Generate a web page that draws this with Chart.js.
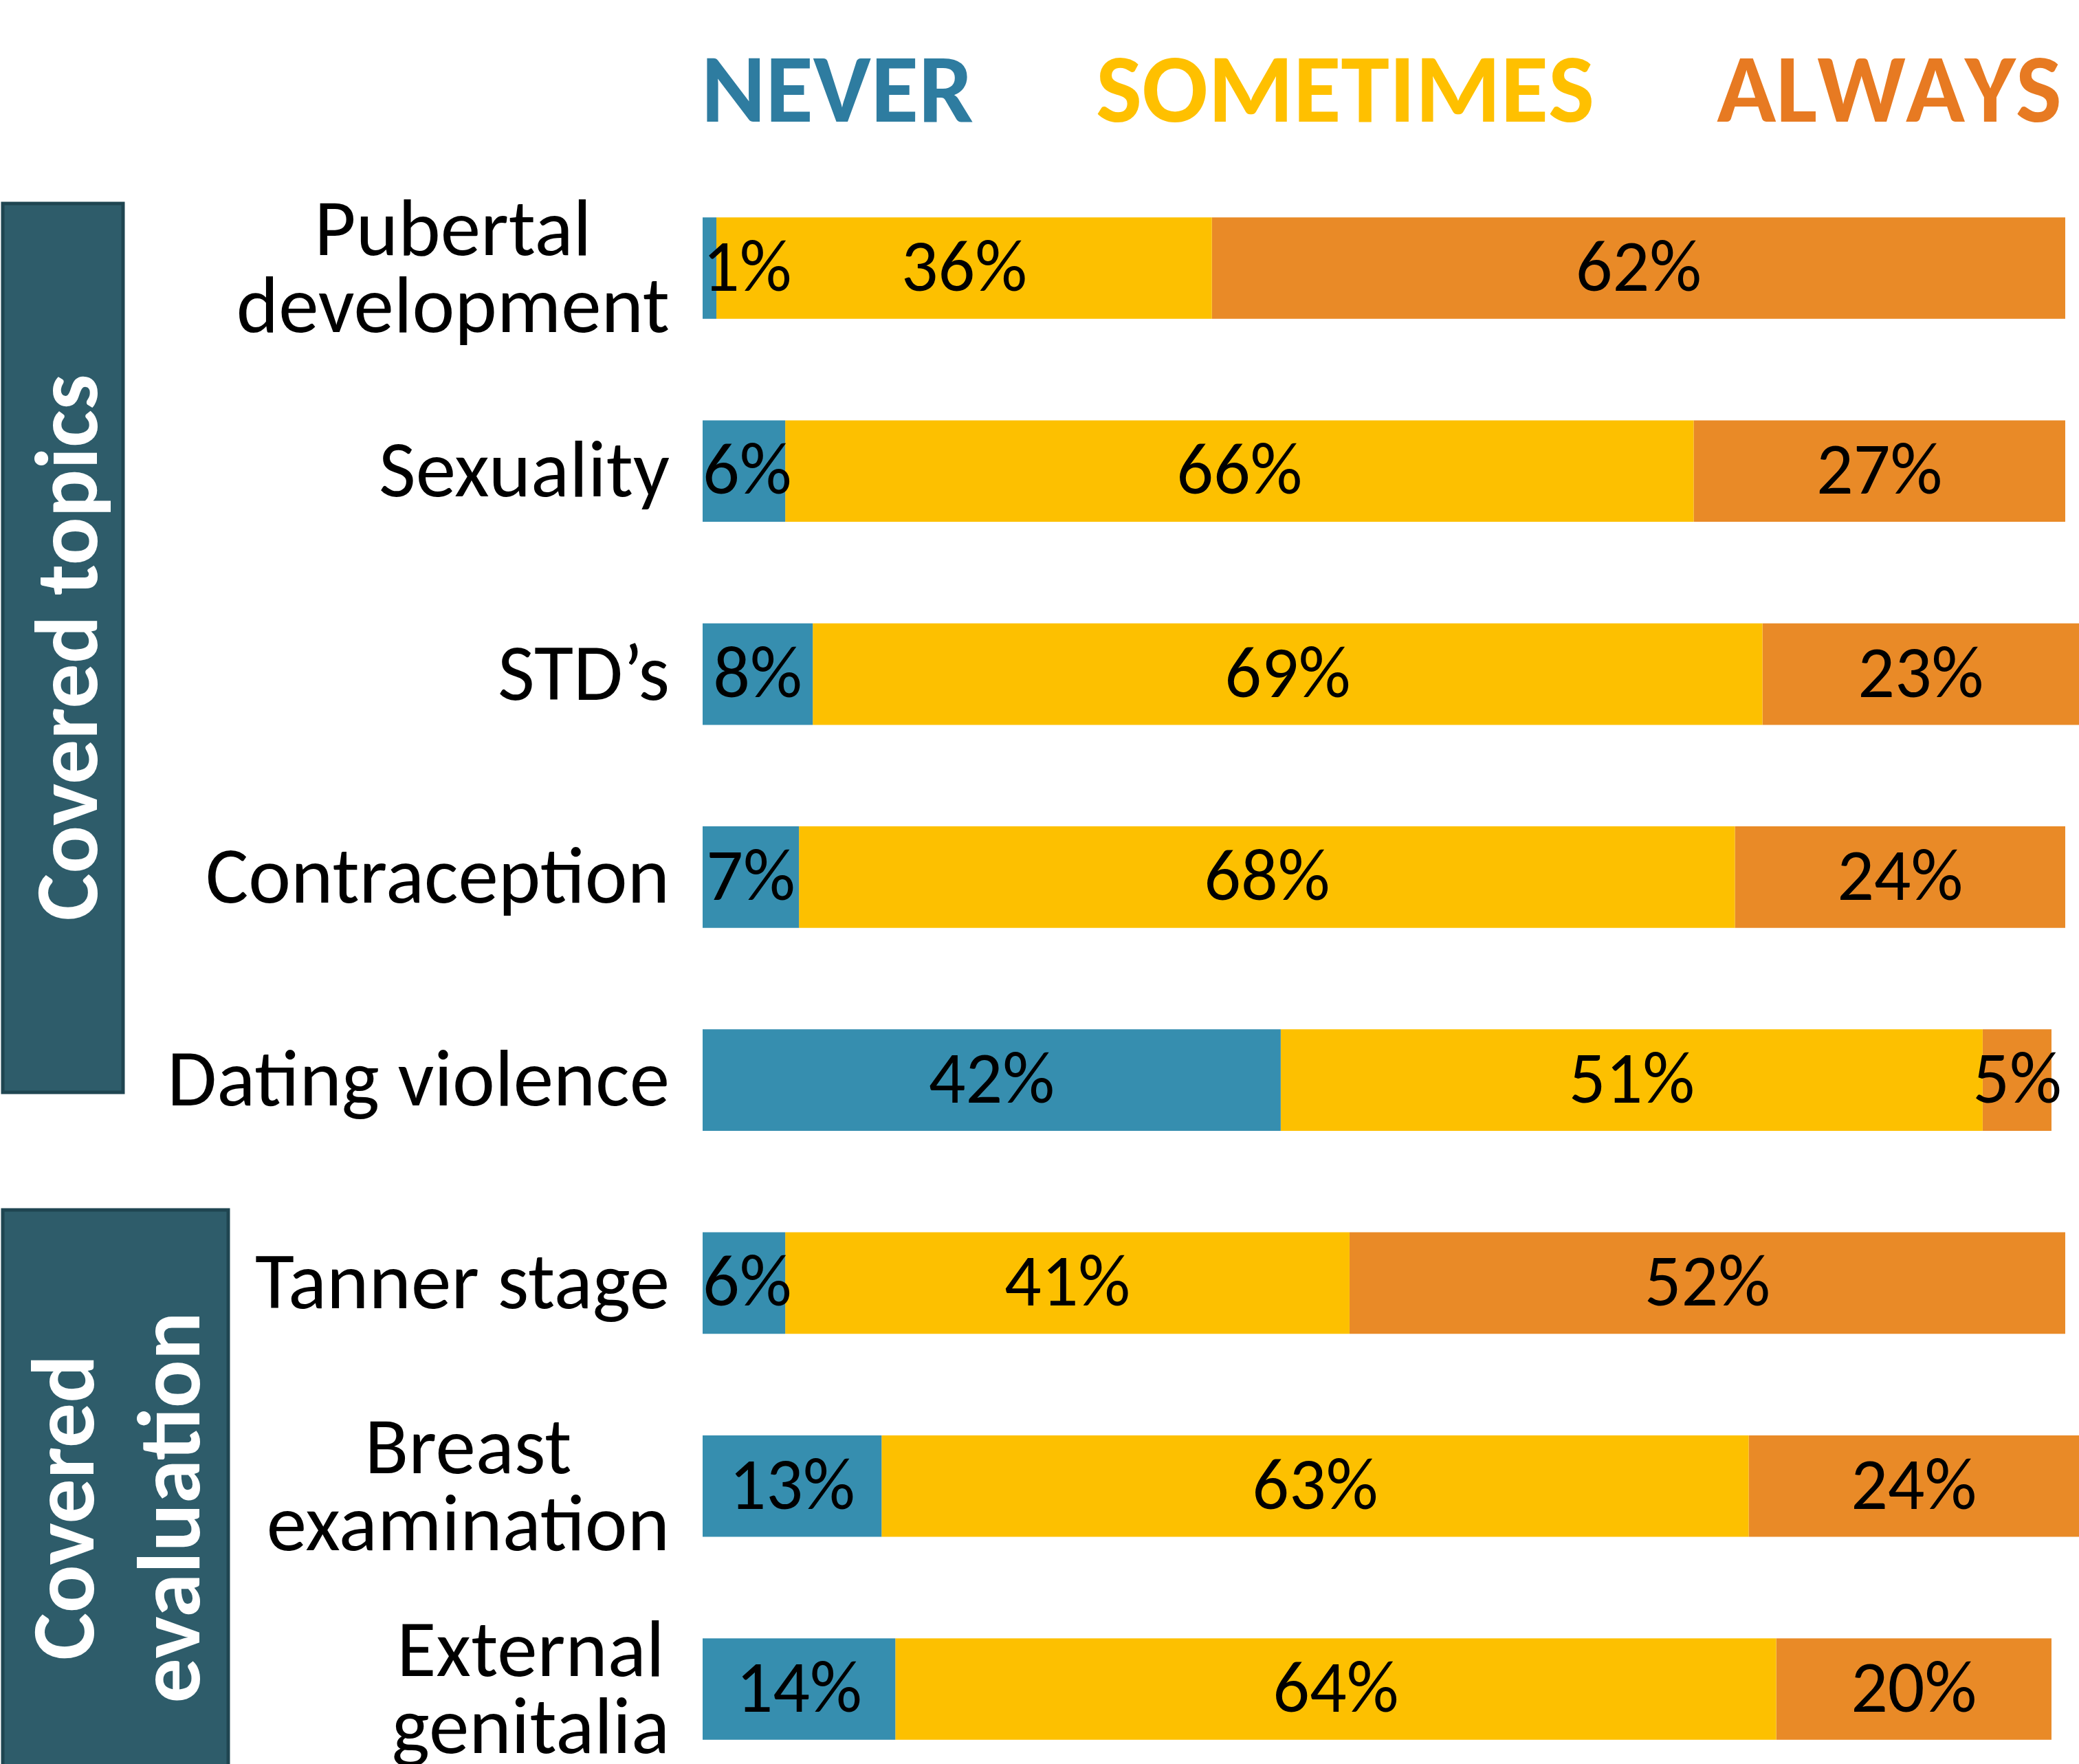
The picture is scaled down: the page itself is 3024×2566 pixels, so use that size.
<!DOCTYPE html>
<html>
<head>
<meta charset="utf-8">
<script src="https://cdn.jsdelivr.net/npm/chart.js@4.4.1/dist/chart.umd.min.js"></script>
<style>
  html, body { margin: 0; padding: 0; background: #ffffff; }
  #wrap { width: 3024px; height: 2566px; position: relative; }
</style>
</head>
<body>
<div id="wrap"><canvas id="topicsChart"></canvas></div>
<script>
const categories = [
  ['Pubertal', 'development'],
  'Sexuality',
  'STD\u2019s',
  'Contraception',
  'Dating violence',
  'Tanner stage',
  ['Breast', 'examination'],
  ['External', 'genitalia']
];
const neverValues = [1, 6, 8, 7, 42, 6, 13, 14];
const sometimesValues = [36, 66, 69, 68, 51, 41, 63, 64];
const alwaysValues = [62, 27, 23, 24, 5, 52, 24, 20];
const seriesNames = ['NEVER', 'SOMETIMES', 'ALWAYS'];
const groupNames = [['Covered topics'], ['Covered', 'evaluation']];

const barColors = ['#368eaf', '#fdc000', '#e98a27'];
const headColors = ['#2e7ca0', '#ffc000', '#e77a22'];
const FONT = 'Carlito, Calibri, "Open Sans", sans-serif';

// side boxes, percent labels, category labels and the header row
const decorations = {
  id: 'decorations',
  afterDraw(chart) {
    const ctx = chart.ctx;
    const area = chart.chartArea;
    const yScale = chart.scales.y;
    ctx.save();

    // header
    ctx.font = 'bold 142px ' + FONT;
    if ('fontKerning' in ctx) ctx.fontKerning = 'none';
    ctx.textAlign = 'left';
    ctx.textBaseline = 'alphabetic';
    let hx = area.left - 2;
    seriesNames.forEach((name, i) => {
      ctx.fillStyle = headColors[i];
      ctx.fillText(name, hx, 177);
      hx += ctx.measureText(name).width + 178;
    });
    if ('fontKerning' in ctx) ctx.fontKerning = 'auto';

    // group boxes
    const boxes = [
      { x: 4, y: 296, w: 175, h: 1293, cx: 100, cy: 942 },
      { x: 4, y: 1760, w: 328, h: 830, cx: 172, cy: 2193 }
    ];
    boxes.forEach((b, i) => {
      ctx.fillStyle = '#2e5c6a';
      ctx.strokeStyle = '#1f4551';
      ctx.lineWidth = 5;
      ctx.fillRect(b.x, b.y, b.w, b.h);
      ctx.strokeRect(b.x, b.y, b.w, b.h);
      ctx.save();
      ctx.translate(b.cx, b.cy);
      ctx.rotate(-Math.PI / 2);
      ctx.fillStyle = '#ffffff';
      ctx.font = 'bold 130px ' + FONT;
      ctx.textAlign = 'center';
      const lines = groupNames[i];
      const lh = 154;
      lines.forEach((t, k) => {
        ctx.fillText(t, 0, 41 + (k - (lines.length - 1) / 2) * lh);
      });
      ctx.restore();
    });

    // category labels
    ctx.fillStyle = '#000000';
    ctx.font = '117px ' + FONT;
    ctx.textAlign = 'center';
    categories.forEach((cat, i) => {
      const lines = Array.isArray(cat) ? cat : [cat];
      const w = Math.max(...lines.map(t => ctx.measureText(t).width));
      const cx = area.left - 48 - w / 2;
      const cy = yScale.getPixelForValue(i);
      lines.forEach((t, k) => {
        ctx.fillText(t, cx, cy + 37 + (k - (lines.length - 1) / 2) * 112);
      });
    });

    // percent labels
    ctx.font = '106px ' + FONT;
    chart.data.datasets.forEach((ds, d) => {
      const meta = chart.getDatasetMeta(d);
      meta.data.forEach((bar, i) => {
        const text = ds.data[i] + '%';
        const tw = ctx.measureText(text).width;
        let cx = (bar.x + bar.base) / 2;
        cx = Math.max(cx, area.left + tw / 2);
        cx = Math.min(cx, area.right - tw / 2);
        ctx.fillText(text, cx, bar.y + 33);
      });
    });

    ctx.restore();
  }
};

function createChart(canvasId) {
  const ctx = document.getElementById(canvasId).getContext('2d');
  const series = [neverValues, sometimesValues, alwaysValues];
  new Chart(ctx, {
    type: 'bar',
    data: {
      labels: categories,
      datasets: series.map((vals, i) => ({
        label: seriesNames[i],
        data: vals,
        backgroundColor: barColors[i],
        borderWidth: 0,
        categoryPercentage: 0.5,
        barPercentage: 1.0,
        clip: false
      }))
    },
    options: {
      indexAxis: 'y',
      responsive: true,
      maintainAspectRatio: false,
      animation: false,
      layout: { padding: { top: 390, bottom: 109, left: 1022, right: 0 } },
      scales: {
        x: { stacked: true, min: 0, max: 100, display: false },
        y: { stacked: true, offset: false, display: false }
      },
      plugins: {
        legend: { display: false },
        tooltip: { enabled: false }
      }
    },
    plugins: [decorations]
  });
}

window.onload = function () {
  createChart('topicsChart');
};
</script>
</body>
</html>
